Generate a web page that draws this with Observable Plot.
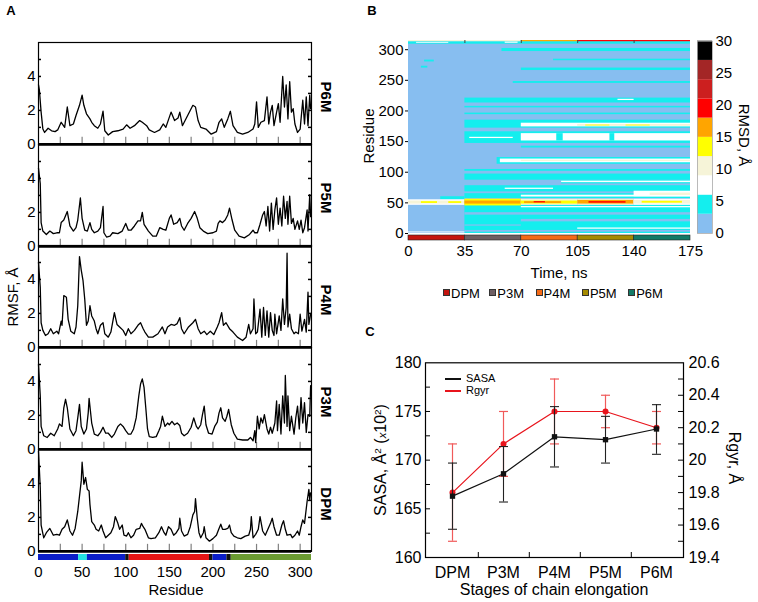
<!DOCTYPE html>
<html><head><meta charset="utf-8">
<script src="https://cdn.jsdelivr.net/npm/d3@7"></script>
<script src="https://cdn.jsdelivr.net/npm/@observablehq/plot@0.6"></script>
<style>
body{margin:0;background:#fff;}
#fig{position:relative;width:758px;height:602px;overflow:hidden;background:#fff;font-family:"Liberation Sans",Arial,Helvetica,sans-serif;}
.lbl{position:absolute;white-space:nowrap;color:#000;line-height:1;font-family:"Liberation Sans",Arial,Helvetica,sans-serif;}
.sup{font-size:0.62em;vertical-align:0.55em;}
</style></head><body><div id="fig"></div><script>
// ---------------- DATA ----------------
// Panel A: RMSF (Å) per residue, [residue, value]
const rmsfP6M = [[0,3.5],[1,3.2],[3,1.9],[5,0.9],[7,0.7],[11,0.95],[15,0.8],[19,0.75],[22,0.85],[26,1.3],[30,1.0],[33,2.2],[36,1.1],[40,1.2],[43,1.7],[47,2.3],[50,2.9],[52,2.3],[55,1.8],[59,1.5],[61,1.3],[64,1.1],[68,0.95],[71,1.2],[74,1.95],[76,0.8],[80,0.55],[85,0.75],[91,0.8],[97,0.9],[101,1.15],[105,0.95],[110,1.1],[116,1.4],[119,1.3],[124,1.1],[127,0.85],[133,0.7],[139,0.85],[143,1.2],[146,1.0],[152,1.9],[156,1.4],[160,1.55],[162,1.9],[165,1.1],[171,1.7],[177,2.3],[180,2.2],[183,1.4],[186,1.0],[192,0.9],[198,0.6],[204,0.75],[207,1.3],[210,1.5],[213,1.0],[217,1.5],[220,1.95],[223,1.1],[228,0.7],[234,0.6],[240,0.7],[246,0.9],[248,1.2],[250,2.5],[252,1.0],[255,1.3],[259,1.4],[262,2.8],[264,1.2],[266,1.9],[268,2.3],[270,1.1],[273,1.9],[275,2.4],[277,1.3],[280,4.0],[282,2.2],[284,3.5],[286,1.5],[288,3.7],[290,1.9],[292,2.1],[294,1.2],[297,0.7],[300,0.9],[303,2.6],[305,1.2],[307,2.8],[309,1.1],[311,2.9],[312,2.1]];
const rmsfP5M = [[0,4.6],[2,3.7],[3,1.4],[5,0.9],[9,0.7],[13,0.9],[17,0.75],[21,0.8],[24,0.8],[26,1.4],[29,1.55],[33,2.05],[36,1.2],[40,0.9],[43,1.1],[45,1.55],[48,2.85],[50,1.65],[53,0.95],[56,0.9],[59,1.4],[61,1.0],[64,0.8],[68,0.9],[71,1.1],[74,2.35],[75,0.8],[78,0.55],[82,0.6],[85,0.8],[91,0.75],[96,0.9],[100,1.35],[103,0.95],[106,0.95],[110,1.2],[114,1.5],[117,1.5],[119,2.0],[121,1.3],[126,0.9],[131,0.6],[135,0.6],[139,1.1],[143,1.0],[146,0.95],[150,1.65],[152,1.85],[155,1.3],[159,1.4],[162,1.65],[164,1.2],[167,0.95],[171,1.35],[175,1.65],[179,2.05],[182,1.65],[185,1.1],[189,0.9],[194,0.75],[200,0.8],[204,0.9],[206,1.35],[208,1.5],[211,1.4],[214,1.55],[217,1.85],[219,2.25],[222,1.55],[225,0.95],[230,0.6],[236,0.5],[242,0.7],[246,0.95],[248,0.8],[251,0.8],[254,1.3],[257,1.85],[259,2.05],[261,1.2],[263,2.35],[265,0.9],[267,2.55],[269,1.0],[271,2.15],[273,2.85],[275,1.3],[277,2.25],[279,1.2],[281,2.95],[283,1.65],[285,2.65],[286,1.3],[288,2.95],[290,1.35],[292,1.65],[294,1.0],[297,1.5],[299,1.0],[301,1.55],[303,0.8],[305,1.1],[308,2.15],[309,0.9],[311,3.05],[312,1.75]];
const rmsfP4M = [[0,5.0],[2,3.55],[3,1.45],[5,1.0],[8,0.7],[11,0.8],[14,1.1],[17,0.8],[21,0.95],[23,0.8],[26,1.55],[27,1.3],[29,3.05],[32,2.95],[34,1.65],[37,0.95],[41,0.8],[43,1.2],[45,2.45],[47,5.35],[49,4.55],[51,3.95],[53,2.85],[55,1.3],[57,1.55],[59,2.45],[61,1.85],[64,1.55],[66,1.1],[68,0.8],[71,1.3],[74,1.45],[76,0.8],[80,0.6],[83,0.9],[87,2.05],[90,1.35],[93,1.2],[97,1.0],[100,0.7],[103,1.1],[106,0.8],[110,1.0],[114,1.3],[117,1.45],[120,1.1],[122,0.9],[126,0.6],[131,0.6],[137,0.8],[142,1.2],[145,0.8],[148,1.2],[152,1.35],[156,1.3],[159,1.4],[162,1.75],[164,1.1],[167,0.8],[172,1.2],[177,1.45],[180,1.65],[183,1.1],[186,0.8],[190,0.95],[193,0.75],[197,0.95],[201,0.75],[205,1.2],[207,1.45],[210,2.05],[212,1.3],[215,1.45],[219,1.1],[223,0.9],[228,0.6],[234,0.4],[238,0.6],[241,1.35],[243,0.8],[246,1.1],[247,2.85],[249,0.8],[251,0.9],[254,2.25],[256,0.6],[258,2.35],[260,0.7],[262,2.15],[264,0.6],[266,2.05],[268,1.0],[270,0.7],[271,1.95],[273,0.8],[276,1.85],[278,1.0],[280,2.85],[282,1.35],[284,2.35],[285,5.55],[286,1.2],[288,1.95],[290,1.1],[293,0.8],[295,0.9],[298,0.8],[300,1.95],[302,0.95],[305,1.65],[307,0.9],[309,3.25],[310,1.35],[312,1.95]];
const rmsfP3M = [[0,5.0],[2,3.15],[3,1.35],[6,0.8],[10,0.7],[14,0.95],[18,0.8],[22,1.2],[24,1.5],[27,1.35],[29,2.45],[31,2.95],[33,2.45],[36,1.2],[40,0.8],[43,1.1],[45,1.85],[47,2.65],[49,1.35],[52,0.9],[55,1.2],[57,2.15],[58,3.0],[61,1.55],[64,0.9],[68,0.8],[71,1.0],[74,1.3],[77,0.95],[80,0.95],[84,0.7],[87,0.9],[91,1.35],[94,1.5],[97,1.35],[100,1.1],[103,0.9],[106,0.9],[109,1.2],[112,1.85],[115,3.15],[117,3.85],[119,4.15],[121,3.65],[123,2.45],[125,1.2],[127,0.75],[131,0.7],[135,0.75],[138,1.1],[140,1.35],[142,1.95],[145,1.35],[148,1.55],[150,1.45],[153,1.65],[156,1.45],[159,1.55],[162,1.4],[164,0.95],[167,0.8],[171,0.95],[175,1.3],[178,1.85],[181,1.35],[183,1.2],[186,1.45],[188,2.05],[190,2.55],[192,1.45],[195,0.95],[199,0.9],[202,1.35],[205,1.6],[207,2.15],[209,2.45],[211,1.85],[214,1.65],[216,1.95],[218,2.35],[221,1.45],[224,0.95],[228,0.6],[234,0.55],[240,0.55],[243,0.7],[246,0.5],[248,1.1],[249,0.4],[251,1.95],[253,1.2],[255,1.85],[257,1.55],[259,2.05],[262,1.2],[264,0.9],[266,1.3],[268,0.95],[271,1.55],[273,2.85],[274,1.1],[276,2.65],[278,0.9],[280,3.15],[282,1.55],[283,4.35],[285,1.35],[286,3.15],[288,1.1],[290,1.95],[293,0.9],[295,1.85],[297,2.55],[299,1.2],[301,3.05],[303,1.55],[305,2.75],[307,1.0],[309,2.05],[311,1.95],[312,3.75]];
const rmsfDPM = [[0,5.9],[2,3.75],[3,1.55],[6,0.8],[9,1.1],[13,1.35],[17,0.95],[21,1.0],[24,0.95],[27,1.3],[30,1.45],[33,1.85],[36,1.2],[39,0.95],[42,1.35],[45,2.35],[47,3.25],[49,4.15],[50,5.25],[52,3.95],[54,4.35],[56,3.65],[58,3.55],[59,2.75],[61,1.75],[64,1.55],[66,1.3],[69,1.2],[72,1.55],[74,1.2],[77,0.8],[80,0.95],[83,1.1],[86,1.45],[88,2.05],[91,1.65],[93,1.3],[96,1.55],[98,0.95],[101,0.9],[103,1.1],[106,0.8],[109,0.95],[112,1.3],[116,1.35],[118,1.65],[120,1.45],[122,1.3],[126,0.8],[129,0.75],[134,0.8],[138,1.1],[141,1.45],[144,1.1],[146,0.95],[149,1.45],[152,1.3],[155,0.95],[158,1.1],[161,1.35],[162,1.95],[164,1.2],[167,0.9],[171,1.0],[174,1.45],[177,2.15],[179,2.35],[180,3.1],[182,1.95],[184,1.1],[186,0.8],[189,1.1],[190,1.45],[192,0.8],[196,0.6],[200,0.75],[204,0.95],[207,1.35],[209,1.6],[211,1.3],[214,1.3],[217,1.35],[219,1.55],[221,1.1],[224,0.9],[228,0.8],[232,0.75],[237,0.9],[241,0.95],[243,1.3],[244,2.05],[246,0.8],[249,1.0],[252,1.3],[254,2.05],[257,1.2],[260,0.95],[263,1.3],[266,1.65],[268,1.95],[270,1.45],[273,0.95],[276,0.95],[279,1.55],[281,1.8],[283,1.3],[285,0.95],[289,1.0],[291,0.8],[294,0.95],[297,1.2],[299,0.95],[301,1.45],[303,1.85],[305,1.65],[308,2.95],[310,3.65],[311,3.05],[312,3.45]];
const rmsfNames = ["P6M","P5M","P4M","P3M","DPM"];
const rmsfYLabels = [0, 2, 4];
const rmsfYMinor = [1, 2, 3, 4, 5];
const rmsfXTicks = [25,50,75,100,125,150,175,200,225,250,275,300];
const residueTicks = [0,50,100,150,200,250,300];
// secondary-structure bar under panel A
const domStart = [0,46,56,100,104,196,200,216,221];
const domEnd   = [46,56,100,104,196,200,216,221,313];
const domColor = ["#0b1ec8","#22e3e3","#0b1ec8","#111111","#e51515","#111111","#0b1ec8","#111111","#6b9b32"];

// Panel B: RMSD heat map bands [t0 ns, t1 ns, residue lo, residue hi, RMSD Å]
const heatBands = [
 [0,175,0,315,1.5],
 [0,175,309,313,4.5],[5,25,310.5,312,7.5],[60,68,310.5,312.5,7.5],
 [0,70,313,315,10.5],[70,105,313,315,16.5],[105,175,313,315,19.5],
 [58,175,297,302,4.5],[90,175,282,284.5,4.5],[10,16,280,283,4.5],[8,12,270,273,4.5],
 [70,175,266,270,4.5],[65,175,245,248,4.5],
 [35,175,213,221,4.5],[130,140,217,219,7.5],[35,175,205,207.5,4.5],[35,175,194,196.5,4.5],
 [35,175,172,185,4.5],[70,175,174,180,7.5],[105,175,175,178,10.5],[110,125,175.5,177,13.5],[135,150,175.5,177,13.5],
 [35,175,147,166,4.5],[38,65,155,157,7.5],[70,175,151,163,7.5],[92,96,151,163,4.5],[125,128,151,163,4.5],
 [70,175,139.5,142.5,4.5],
 [55,175,113,124,4.5],[57,175,115.5,121.5,7.5],[70,175,117.5,119.5,10.5],
 [35,175,101.5,104.5,4.5],[35,175,87,97,4.5],[95,175,81,87,4.5],[95,175,83,85.5,7.5],
 [35,175,68,78,4.5],[60,90,72,74,7.5],
 [35,175,57,65,4.5],[70,175,59.5,62.5,7.5],[140,175,60,69,7.5],[150,175,62,66,10.5],[20,35,55,60,4.5],
 [35,175,0,46,4.5],[35,175,30,34,1.5],[70,175,19,23,1.5],[35,175,2,5,1.5],[35,70,12,14,1.5],[105,175,7,9,7.5],[70,175,42,44,7.5],
 [0,35,46,55,7.5],[0,35,48,53,10.5],[8,18,49,52,13.5],[25,33,49,52,13.5],
 [35,70,45,56,13.5],[35,70,48,53,16.5],
 [70,105,46,56,10.5],[70,105,48,53,13.5],[72,95,49,52,16.5],[78,85,50,52,19.5],
 [105,140,46,56,10.5],[105,140,48,54,16.5],[112,135,49.5,52,19.5],
 [140,175,46,56,7.5],[140,175,48,54,10.5],[145,170,49.5,52.5,13.5],
 [0,35,1,2.5,7.5]
];
const rmsdThresholds = [3,6,9,12,15,18,21,24,27];
const rmsdColors = ["#87bef0","#14eeee","#ffffff","#f6f4d8","#ffff00","#ffa500","#ff0000","#cc1f1f","#a32626","#000000"];
const rmsdBarLow = [0,3,6,9,12,15,18,21,24,27];
const rmsdTicks = [0,5,10,15,20,25,30];
const residueTicksB = [0,50,100,150,200,250,300];
const timeTicks = [0,35,70,105,140,175];
const stageNames = ["DPM","P3M","P4M","P5M","P6M"];
const stageStart = [0,35,70,105,140];
const stageEnd = [35,70,105,140,175];
const stageColors = ["#c4140e","#6e5e62","#f46a16","#a68b00","#137a66"];

// Panel C
const stages = ["DPM","P3M","P4M","P5M","P6M"];
const sasaMean = [166.3,168.6,172.4,172.1,173.2];
const sasaLow  = [162.9,165.7,169.3,169.7,170.6];
const sasaHigh = [169.7,171.4,175.5,174.5,175.7];
const rgyrMean = [19.8,20.1,20.3,20.3,20.2];
const rgyrLow  = [19.5,19.9,20.1,20.2,20.1];
const rgyrHigh = [20.1,20.3,20.5,20.4,20.3];
const sasaTicks = [160,165,170,175,180];
const sasaMinor = [162.5,165,167.5,170,172.5,175,177.5];
const rgyrTicks = [19.4,19.6,19.8,20,20.2,20.4,20.6];
const rgyrMinor = [19.5,19.6,19.7,19.8,19.9,20,20.1,20.2,20.3,20.4,20.5];

// ---------------- DRAWING ----------------
const fig = document.getElementById("fig");
const FONT = '"Liberation Sans", Arial, Helvetica, sans-serif';
const st = (size=15) => ({overflow:"visible", background:"transparent", fontFamily:FONT, fontSize:size+"px", color:"#000"});
const fmt = d => String(d);
function place(el, left, top){ el.style.position="absolute"; el.style.left=left+"px"; el.style.top=top+"px"; fig.appendChild(el); return el; }
function label(html, x, y, {size=15, weight="normal", rotate=0, color="#000"}={}){
  const d=document.createElement("div"); d.className="lbl"; d.innerHTML=html;
  d.style.left=x+"px"; d.style.top=y+"px"; d.style.fontSize=size+"px"; d.style.fontWeight=weight; d.style.color=color;
  d.style.transform=`translate(-50%,-50%) rotate(${rotate}deg)`; fig.appendChild(d); return d;
}
function safe(fn){ try { fn(); } catch (e) { console.error(e); } }

// Panel A
const rmsfSeries = [rmsfP6M, rmsfP5M, rmsfP4M, rmsfP3M, rmsfDPM];
const aTop = 41.7, aStep = 101.85, aW = 311, aML = 38;
rmsfSeries.forEach((s, i) => safe(() => {
  const fw = aW - aML;
  const p = Plot.plot({
    width: aW, height: aStep, marginLeft: aML, marginRight: 0, marginTop: 0, marginBottom: 0,
    x: {domain: [0, 313], axis: null},
    y: {domain: [0, 6]},
    style: st(15),
    marks: [
      Plot.frame({stroke: "#000", strokeWidth: 1.2}),
      Plot.tickX(rmsfXTicks, {insetTop: aStep - 7, stroke: "#808080", strokeWidth: 1.2}),
      Plot.tickY(rmsfYMinor, {insetRight: fw - 3, strokeWidth: 1.5}),
      Plot.tickY(rmsfYMinor, {insetLeft: fw - 3, strokeWidth: 1.5}),
      Plot.line(s, {x: d => d[0], y: d => d[1], stroke: "#000", strokeWidth: 1.3}),
      Plot.ruleY([0], {stroke: "#000", strokeWidth: 2.6}),
      Plot.axisY({ticks: rmsfYLabels, tickFormat: fmt, tickSize: 0, tickPadding: 3, fontSize: 15, label: null})
    ]
  });
  place(p, 0, aTop + i * aStep);
  label(rmsfNames[i], 326, aTop + i * aStep + aStep / 2 + 4, {size: 15, weight: "bold", rotate: 90});
}));
safe(() => {
  const barA = Plot.plot({
    width: aW, height: 36, marginLeft: aML, marginRight: 0, marginTop: 0, marginBottom: 30,
    x: {domain: [0, 313]}, color: {type: "identity"}, style: st(15),
    marks: [
      Plot.rect(domStart.map((d, i) => i), {x1: i => domStart[i], x2: i => domEnd[i], fill: i => domColor[i]}),
      Plot.axisX({ticks: residueTicks, tickFormat: fmt, tickSize: 0, tickPadding: 6, fontSize: 15, label: null})
    ]
  });
  place(barA, 0, 554);
});
label("RMSF, Å", 12, 297, {size: 15, rotate: -90});
label("Residue", 176, 589, {size: 15});
label("A", 11, 10, {size: 13, weight: "bold"});

// Panel B heat map
safe(() => {
  const heat = Plot.plot({
    width: 320, height: 203, marginLeft: 38, marginRight: 0, marginTop: 10, marginBottom: 0,
    x: {domain: [0, 175], axis: null}, y: {domain: [0, 315]},
    color: {type: "threshold", domain: rmsdThresholds, range: rmsdColors},
    style: st(15),
    marks: [
      Plot.rect(heatBands, {x1: d => d[0], x2: d => d[1], y1: d => d[2], y2: d => d[3], fill: d => d[4]}),
      Plot.tickX(stageStart.slice(1), {insetBottom: 190, stroke: "#444"}),
      Plot.axisY({ticks: residueTicksB, tickFormat: fmt, tickSize: 3, tickPadding: 2, fontSize: 15, label: null})
    ]
  });
  place(heat, 370, 30);
});
safe(() => {
  const stageBar = Plot.plot({
    width: 320, height: 30, marginLeft: 38, marginRight: 0, marginTop: 0, marginBottom: 25,
    x: {domain: [0, 175]}, color: {type: "identity"}, style: st(15),
    marks: [
      Plot.rect(stageNames.map((d, i) => i), {x1: i => stageStart[i], x2: i => stageEnd[i], fill: i => stageColors[i], stroke: "#222", strokeWidth: 0.6}),
      Plot.axisX({ticks: timeTicks, tickFormat: fmt, tickSize: 0, tickPadding: 4.6, fontSize: 15, label: null})
    ]
  });
  place(stageBar, 370, 235);
});
safe(() => {
  const cbar = Plot.plot({
    width: 55, height: 213, marginLeft: 0, marginRight: 40, marginTop: 10.7, marginBottom: 10,
    x: {axis: null}, y: {domain: [0, 30]},
    color: {type: "threshold", domain: rmsdThresholds, range: rmsdColors},
    style: st(15),
    marks: [
      Plot.rect(rmsdBarLow, {y1: d => d, y2: d => d + 3, fill: d => d + 1.5}),
      Plot.frame({stroke: "#aaa", strokeWidth: 0.8}),
      Plot.axisY({anchor: "right", ticks: rmsdTicks, tickFormat: fmt, tickSize: 0, tickPadding: 3, fontSize: 15, label: null})
    ]
  });
  place(cbar, 697, 30);
});
label("Residue", 368, 136, {size: 15, rotate: -90});
label("Time, ns", 559, 272, {size: 15});
label("RMSD, Å", 743.5, 135, {size: 15, rotate: 90});
label("B", 372, 10, {size: 13, weight: "bold"});
stageNames.forEach((n, i) => {
  const x = 443 + i * 46.3;
  const sq = document.createElement("div");
  sq.style.cssText = `position:absolute;left:${x}px;top:289px;width:7px;height:7px;background:${stageColors[i]};border:0.5px solid #333;box-sizing:border-box;`;
  fig.appendChild(sq);
  const t = document.createElement("div"); t.className = "lbl"; t.textContent = n;
  t.style.cssText += `left:${x + 8}px;top:286.5px;font-size:13px;`;
  fig.appendChild(t);
});

// Panel C
const cW = 348, cH = 245, cML = 45, cMR = 45, cMT = 10.3, cMB = 40;
const cFW = cW - cML - cMR, cFH = cH - cMT - cMB;
const sasa = stages.map((s, i) => ({s, m: sasaMean[i], lo: sasaLow[i], hi: sasaHigh[i]}));
const rgyr = stages.map((s, i) => ({s, m: rgyrMean[i], lo: rgyrLow[i], hi: rgyrHigh[i]}));
const capSymbol = {draw(ctx) { ctx.moveTo(-4.5, 0); ctx.lineTo(4.5, 0); }};
safe(() => {
  const c2 = Plot.plot({
    width: cW, height: cH, marginLeft: cML, marginRight: cMR, marginTop: cMT, marginBottom: cMB,
    x: {type: "point", domain: stages, padding: 0.5, axis: null}, y: {domain: [19.4, 20.6]},
    style: st(16),
    marks: [
      Plot.tickY(rgyrMinor, {insetLeft: cFW - 5, strokeWidth: 1}),
      Plot.ruleX(rgyr, {x: "s", y1: "lo", y2: "hi", stroke: "#f05a5a", strokeWidth: 1.2}),
      Plot.dot(rgyr, {x: "s", y: "lo", symbol: capSymbol, r: 3, fill: "none", stroke: "#f05a5a", strokeWidth: 1.2}),
      Plot.dot(rgyr, {x: "s", y: "hi", symbol: capSymbol, r: 3, fill: "none", stroke: "#f05a5a", strokeWidth: 1.2}),
      Plot.line(rgyr, {x: "s", y: "m", stroke: "#e8141c", strokeWidth: 1.2}),
      Plot.dot(rgyr, {x: "s", y: "m", r: 3, fill: "#e8141c"}),
      Plot.axisY({anchor: "right", ticks: rgyrTicks, tickFormat: fmt, tickSize: 0, tickPadding: 5, fontSize: 16, label: null})
    ]
  });
  place(c2, 380, 352);
});
safe(() => {
  const c1 = Plot.plot({
    width: cW, height: cH, marginLeft: cML, marginRight: cMR, marginTop: cMT, marginBottom: cMB,
    x: {type: "point", domain: stages, padding: 0.5}, y: {domain: [160, 180]},
    style: st(16),
    marks: [
      Plot.frame({stroke: "#000", strokeWidth: 1.2}),
      Plot.tickY(sasaMinor, {insetRight: cFW - 5, strokeWidth: 1}),
      Plot.ruleX(stages.slice(0, 4), {dx: cFW / 10, insetTop: cFH - 5, strokeWidth: 1}),
      Plot.ruleX(sasa, {x: "s", y1: "lo", y2: "hi", stroke: "#222", strokeWidth: 1.1}),
      Plot.dot(sasa, {x: "s", y: "lo", symbol: capSymbol, r: 3, fill: "none", stroke: "#222", strokeWidth: 1.1}),
      Plot.dot(sasa, {x: "s", y: "hi", symbol: capSymbol, r: 3, fill: "none", stroke: "#222", strokeWidth: 1.1}),
      Plot.line(sasa, {x: "s", y: "m", stroke: "#111", strokeWidth: 1.2}),
      Plot.dot(sasa, {x: "s", y: "m", r: 3, symbol: "square", fill: "#111"}),
      Plot.axisY({ticks: sasaTicks, tickFormat: fmt, tickSize: 0, tickPadding: 4, fontSize: 16, label: null}),
      Plot.axisX({tickSize: 0, tickPadding: 9.3, fontSize: 16, label: null})
    ]
  });
  place(c1, 380, 352);
});
label("C", 370, 331, {size: 13, weight: "bold"});
label('SASA, Å<span class="sup">2</span> (<span style="font-size:0.7em;font-style:italic">x</span>10<span class="sup">2</span>)', 381, 460, {size: 16, rotate: -90});
label("Rgyr, Å", 734, 458, {size: 16, rotate: 90});
label("Stages of chain elongation", 554, 590, {size: 16});
// legend C
[["SASA", "#111", 379], ["Rgyr", "#e8141c", 391]].forEach(([n, c, y]) => {
  const ln = document.createElement("div");
  ln.style.cssText = `position:absolute;left:445px;top:${y - 0.6}px;width:16px;height:1.3px;background:${c};`;
  fig.appendChild(ln);
  const t = document.createElement("div"); t.className = "lbl"; t.textContent = n;
  t.style.cssText += `left:466px;top:${y - 6}px;font-size:11px;`;
  fig.appendChild(t);
});
</script></body></html>
